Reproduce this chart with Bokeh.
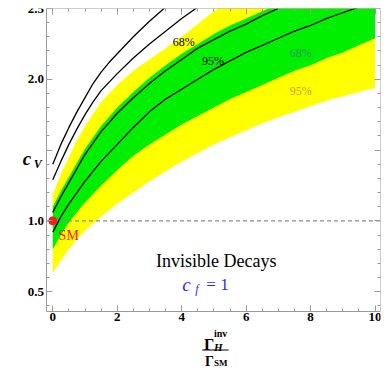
import numpy as np
from bokeh.plotting import figure
from bokeh.models import Label, LinearAxis, FixedTicker, Range1d, PrintfTickFormatter
from bokeh.embed import file_html
from bokeh.resources import INLINE

# ---- data ----
band_x = [0, 0.25, 0.5, 0.75, 1.0, 1.5, 2.0, 2.5, 3.0, 3.5, 4.0, 4.5, 5.0,
          5.5, 6.0, 6.5, 7.0, 7.5, 8.0, 8.5, 9.0, 9.5, 10.0]
yellow_low = [0.63, 0.72, 0.80, 0.87, 0.93, 1.03, 1.12, 1.20, 1.28, 1.35, 1.42, 1.48, 1.54,
              1.59, 1.64, 1.69, 1.73, 1.77, 1.81, 1.85, 1.88, 1.91, 1.94]
yellow_high = [1.19, 1.33, 1.45, 1.57, 1.67, 1.84, 1.96, 2.06, 2.14, 2.22, 2.30, 2.39, 2.48,
               2.55, 2.61, 2.67, 2.73, 2.79, 2.84, 2.89, 2.94, 2.99, 3.04]
green_low = [0.80, 0.90, 0.99, 1.06, 1.13, 1.25, 1.36, 1.46, 1.54, 1.61, 1.68, 1.74, 1.80,
             1.86, 1.91, 1.96, 2.01, 2.06, 2.10, 2.15, 2.19, 2.24, 2.29]
green_high = [1.10, 1.21, 1.31, 1.41, 1.51, 1.67, 1.80, 1.91, 2.01, 2.10, 2.18, 2.25, 2.32,
              2.38, 2.43, 2.48, 2.53, 2.57, 2.62, 2.66, 2.70, 2.74, 2.78]

lineA_x = [0, 0.25, 0.5, 0.75, 1.0, 1.25, 1.5, 1.75, 2.0, 2.5, 3.0, 3.5]
lineA_y = [1.40, 1.54, 1.66, 1.77, 1.87, 1.97, 2.05, 2.12, 2.18, 2.30, 2.41, 2.51]
lineB_x = [0, 0.25, 0.5, 0.75, 1.0, 1.25, 1.5, 2.0, 2.5, 3.0, 3.5, 4.0, 4.5]
lineB_y = [1.29, 1.42, 1.54, 1.65, 1.75, 1.84, 1.92, 2.04, 2.15, 2.25, 2.34, 2.43, 2.51]
lineC_x = [0, 0.25, 0.5, 0.75, 1.0, 1.5, 2.0, 2.5, 3.0, 3.5, 4.0, 4.5, 5.0, 5.5, 6.0, 6.5, 7.0]
lineC_y = [1.06, 1.17, 1.27, 1.37, 1.47, 1.63, 1.76, 1.87, 1.97, 2.06, 2.14, 2.22, 2.28, 2.34, 2.39, 2.45, 2.50]
lineD_x = [0, 0.25, 0.5, 0.75, 1.0, 1.5, 2.0, 2.5, 3.0, 3.5, 4.0, 4.5, 5.0, 5.5, 6.0, 6.5,
           7.0, 7.5, 8.0, 8.5, 9.0, 9.5]
lineD_y = [0.92, 1.03, 1.12, 1.20, 1.28, 1.42, 1.54, 1.66, 1.77, 1.86, 1.93, 2.00, 2.07, 2.13,
           2.19, 2.24, 2.29, 2.34, 2.38, 2.43, 2.47, 2.51]

sm_x = [0.0]
sm_y = [1.0]
sm_level = 1.0

x_major = [0, 2, 4, 6, 8, 10]
y_major = [0.5, 1.0, 1.5, 2.0, 2.5]

# axes box (data units)
X0, X1 = -0.18, 10.17
Y0, Y1 = 0.36, 2.5

SERIF = "Liberation Serif"

# the frame covers the whole canvas; the visible box is drawn by axes at fixed locations
p = figure(width=381, height=368, x_range=Range1d(-1.623, X1), y_range=Range1d(-0.043, Y1),
           output_backend="svg", toolbar_location=None,
           min_border_left=0, min_border_right=1, min_border_top=8, min_border_bottom=0,
           background_fill_color="white", border_fill_color="white", outline_line_color=None)
p.grid.visible = False

xt = FixedTicker(ticks=x_major, minor_ticks=list(np.arange(0, 10.01, 0.5)))
yt = FixedTicker(ticks=y_major, minor_ticks=list(np.round(np.arange(0.4, 2.51, 0.1), 2)))

bottom = p.xaxis[0]
left = p.yaxis[0]
bottom.ticker = xt
left.ticker = yt
left.formatter = PrintfTickFormatter(format="%.1f")
top = LinearAxis(ticker=xt)
right = LinearAxis(ticker=yt)
p.add_layout(top, "above")
p.add_layout(right, "right")

bottom.fixed_location = Y0
top.fixed_location = Y1
left.fixed_location = X0
right.fixed_location = X1
for ax in [bottom, top]:
    ax.bounds = (X0, X1)
for ax in [left, right]:
    ax.bounds = (Y0, Y1)

for ax in [bottom, left, top, right]:
    ax.axis_line_color = "#9a9a9a"
    ax.major_tick_line_color = "#9a9a9a"
    ax.minor_tick_line_color = "#9a9a9a"
    ax.major_tick_in = 6
    ax.major_tick_out = 0
    ax.minor_tick_in = 3
    ax.minor_tick_out = 0
    ax.major_label_text_font = SERIF
    ax.major_label_text_font_style = "bold"
    ax.major_label_text_font_size = "13px"
    ax.major_label_text_color = "black"

top.major_label_overrides = {t: "" for t in x_major}
right.major_label_overrides = {t: "" for t in y_major}
for ax in [top, right]:
    ax.major_label_text_font_size = "1px"
    ax.major_label_standoff = 0

bottom.major_label_standoff = 2
left.major_label_standoff = 3
left.major_label_overrides = {1.5: ""}

# bands
p.varea(x=band_x, y1=yellow_low, y2=yellow_high, fill_color="#ffff00")
p.varea(x=band_x, y1=green_low, y2=green_high, fill_color="#00ee00")

# contour lines
for xs, ys in [(lineA_x, lineA_y), (lineB_x, lineB_y), (lineC_x, lineC_y), (lineD_x, lineD_y)]:
    p.line(xs, ys, line_color="black", line_width=1.3)

# SM reference level (dashed), across the axes box
p.segment(x0=[X0], y0=[sm_level], x1=[X1], y1=[sm_level], line_color="#8a8a8a",
          line_dash="4 3", line_width=1.2)

p.scatter(sm_x, sm_y, size=8, fill_color="#ff1a1a", line_color="#ff1a1a")


def lab(text, x, y, size, color="black", style="normal", align="left", xo=0, yo=0):
    p.add_layout(Label(x=x, y=y, text=text, text_font=SERIF, text_font_size=size,
                       text_color=color, text_font_style=style, text_align=align,
                       text_baseline="alphabetic", x_offset=xo, y_offset=yo))


lab("SM", 0.18, 0.90, "14px", color="#ff1a1a")
lab("68%", 3.72, 2.266, "12px")
lab("95%", 4.63, 2.127, "12px")
lab("68%", 7.35, 2.187, "12px", color="#2e9a5e")
lab("95%", 7.35, 1.916, "12px", color="#e09a1c")
lab("Invisible Decays", 5.07, 0.714, "18px", align="center")

# c_f = 1
lab("c", 4.02, 0.552, "19px", color="#2a2aff", style="italic")
lab("f", 4.02, 0.552, "12px", color="#2a2aff", style="italic", xo=13, yo=-5)
lab("= 1", 4.02, 0.552, "17px", color="#2a2aff", xo=24)

# y axis label c_V
lab("c", 0.0, 1.5, "19px", style="bold italic", xo=-30, yo=-8.5)
lab("V", 0.0, 1.5, "12px", style="bold italic", xo=-19, yo=-13.5)

# x axis label: fraction Gamma_H^inv / Gamma_SM  (offsets in px below the box bottom)
lab("\u0393", 5.0, Y0, "16px", style="bold", xo=-10, yo=-33)
lab("H", 5.0, Y0, "11px", style="bold italic", xo=0, yo=-36)
lab("inv", 5.0, Y0, "10px", style="bold", xo=0, yo=-22)
p.add_layout(Label(x=5.0, y=Y0, text=" ", text_font_size="1px", x_offset=1.5, y_offset=-38.5,
                   background_fill_color="black", padding=dict(x=13, y=0),
                   text_align="center", text_baseline="middle"))
lab("\u0393", 5.0, Y0, "14px", style="bold", xo=-9, yo=-50)
lab("SM", 5.0, Y0, "9px", style="bold", xo=0, yo=-51.5)

open("out.html", "w").write(file_html(p, INLINE))
